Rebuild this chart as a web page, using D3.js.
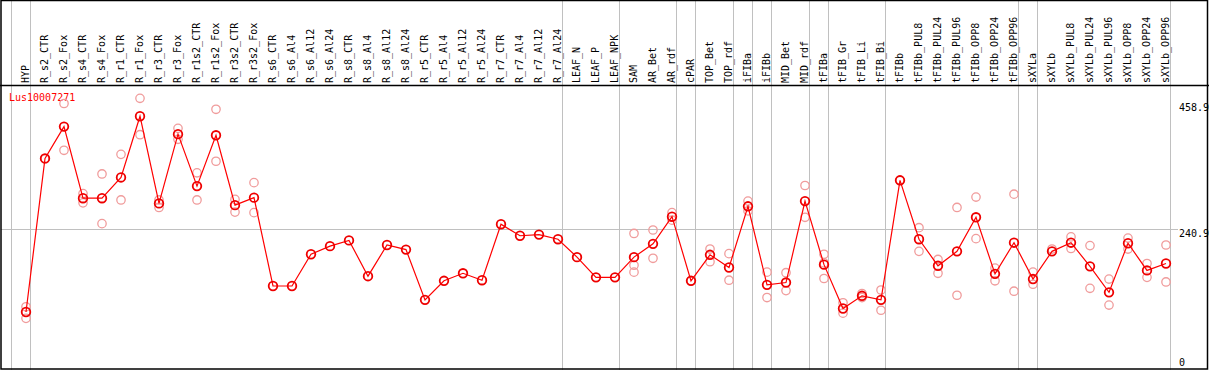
<!DOCTYPE html>
<html>
<head>
<meta charset="utf-8">
<script src="https://cdn.jsdelivr.net/npm/d3@7"></script>
<style>
  body { margin: 0; background: #fff; }
  svg text { font-family: "DejaVu Sans Mono", monospace; font-size: 10px; }
</style>
</head>
<body>
<script>
// chart size
var svgWidth = 1209;
var svgHeight = 370;

var geneName = "Lus10007271";

// sample columns
var samples = ["HYP", "R_s2_CTR", "R_s2_Fox", "R_s4_CTR", "R_s4_Fox", "R_r1_CTR", "R_r1_Fox",
  "R_r3_CTR", "R_r3_Fox", "R_r1s2_CTR", "R_r1s2_Fox", "R_r3s2_CTR", "R_r3s2_Fox",
  "R_s6_CTR", "R_s6_Al4", "R_s6_Al12", "R_s6_Al24", "R_s8_CTR", "R_s8_Al4", "R_s8_Al12", "R_s8_Al24",
  "R_r5_CTR", "R_r5_Al4", "R_r5_Al12", "R_r5_Al24", "R_r7_CTR", "R_r7_Al4", "R_r7_Al12", "R_r7_Al24",
  "LEAF_N", "LEAF_P", "LEAF_NPK", "SAM", "AR_Bet", "AR_rdf", "cPAR", "TOP_Bet", "TOP_rdf",
  "iFIBa", "iFIBb", "MID_Bet", "MID_rdf", "tFIBa", "tFIB_Gr", "tFIB_Li", "tFIB_Bi",
  "tFIBb", "tFIBb_PUL8", "tFIBb_PUL24", "tFIBb_PUL96", "tFIBb_OPP8", "tFIBb_OPP24", "tFIBb_OPP96",
  "sXYLa", "sXYLb", "sXYLb_PUL8", "sXYLb_PUL24", "sXYLb_PUL96", "sXYLb_OPP8", "sXYLb_OPP24", "sXYLb_OPP96"];

// mean expression per sample
var means = [97, 363, 418, 294, 294, 330, 436, 285, 405, 315, 403, 282, 295,
  142, 142, 197, 211, 221, 159, 213, 205,
  118, 151, 164, 152, 249, 229, 231, 223,
  192, 157, 157, 192, 215, 262, 151, 196, 174,
  280, 144, 148, 289, 179, 103, 125, 118,
  325, 223, 177, 202, 261, 163, 217,
  154, 202, 217, 176, 131, 216, 169, 181];

// replicate values per sample
var replicates = [[106, 86], [362], [458, 377], [302, 286], [336, 250], [370, 291], [467, 404],
  [291, 278], [415, 396], [338, 291], [448, 358], [292, 270], [321, 269],
  [], [], [], [], [], [], [], [],
  [], [], [], [], [], [], [], [],
  [], [], [], [233, 178, 166], [239, 190], [269, 256], [151], [206, 184], [198, 152],
  [289, 272], [166, 122], [165, 134], [316, 261], [197, 182, 155], [113, 95], [129, 122], [135, 100],
  [325], [243, 202], [188, 164], [278, 126], [296, 224], [173, 151], [301, 133],
  [166, 145], [206], [227, 207], [212, 138], [154, 109], [225, 206], [181, 157], [213, 149]];

// y-axis tick labels
var yTicks = [0, 240.9, 458.9];

// column index after which a separator line is drawn (-1 = before first)
var separators = [-1, 0, 28, 31, 34, 35, 37, 38, 39, 41, 42, 45, 52, 53, 60];

var headerBottom = 85;

var svg = d3.select("body")
  .append("svg")
  .attr("width", svgWidth)
  .attr("height", svgHeight);

var xScale = d3.scalePoint()
  .domain(samples)
  .range([26, 1166]);
var step = xScale.step();

var yScale = d3.scaleLinear()
  .domain([0, 458.9])
  .range([368, 103]);

// separators (full height)
svg.selectAll(".sep")
  .data(separators)
  .enter()
  .append("line")
  .attr("x1", d => Math.round(26 + step * d) + 4.5)
  .attr("x2", d => Math.round(26 + step * d) + 4.5)
  .attr("y1", 0)
  .attr("y2", svgHeight)
  .attr("stroke", "#c0c0c0");

// middle gridline
svg.append("line")
  .attr("x1", 1)
  .attr("x2", 1178)
  .attr("y1", Math.round(yScale(240.9)) + 0.5)
  .attr("y2", Math.round(yScale(240.9)) + 0.5)
  .attr("stroke", "#c0c0c0");

// frame + header line
svg.append("rect")
  .attr("x", 1).attr("y", 0.5)
  .attr("width", 1206.5).attr("height", 368.5)
  .attr("fill", "none")
  .attr("stroke", "#000")
  .attr("stroke-width", 1.5);

svg.append("line")
  .attr("x1", 0).attr("x2", svgWidth)
  .attr("y1", headerBottom + 0.5).attr("y2", headerBottom + 0.5)
  .attr("stroke", "#000")
  .attr("stroke-width", 1.3);

// column labels
svg.selectAll(".colLabel")
  .data(samples)
  .enter()
  .append("text")
  .attr("class", "colLabel")
  .attr("transform", d => `translate(${xScale(d) + 3}, 83) rotate(-90)`)
  .attr("fill", "#000")
  .text(d => d);

// right axis labels
svg.selectAll(".yLabel")
  .data(yTicks)
  .enter()
  .append("text")
  .attr("x", 1179)
  .attr("y", d => d === 0 ? 366 : yScale(d) + 8)
  .attr("fill", "#000")
  .text(d => d === 0 ? "0" : d3.format(".1f")(d));

// gene name
svg.append("text")
  .attr("x", 9)
  .attr("y", 101)
  .attr("fill", "#ff0000")
  .text(geneName);

// replicate points
var repPoints = [];
replicates.forEach((vals, i) => vals.forEach(v => repPoints.push({ s: samples[i], v: v })));

svg.selectAll(".rep")
  .data(repPoints)
  .enter()
  .append("circle")
  .attr("cx", d => xScale(d.s))
  .attr("cy", d => yScale(d.v))
  .attr("r", 4.2)
  .attr("fill", "none")
  .attr("stroke", "#f09c9c")
  .attr("stroke-width", 1.3);

// mean line
var drawLine = d3.line()
  .x((d, i) => xScale(samples[i]))
  .y(d => yScale(d));

svg.append("path")
  .datum(means)
  .attr("d", drawLine)
  .attr("fill", "none")
  .attr("stroke", "#ff0000")
  .attr("stroke-width", 1.2);

svg.selectAll(".mean")
  .data(means)
  .enter()
  .append("circle")
  .attr("cx", (d, i) => xScale(samples[i]))
  .attr("cy", d => yScale(d))
  .attr("r", 4.3)
  .attr("fill", "none")
  .attr("stroke", "#ee0000")
  .attr("stroke-width", 1.8);
</script>
</body>
</html>
